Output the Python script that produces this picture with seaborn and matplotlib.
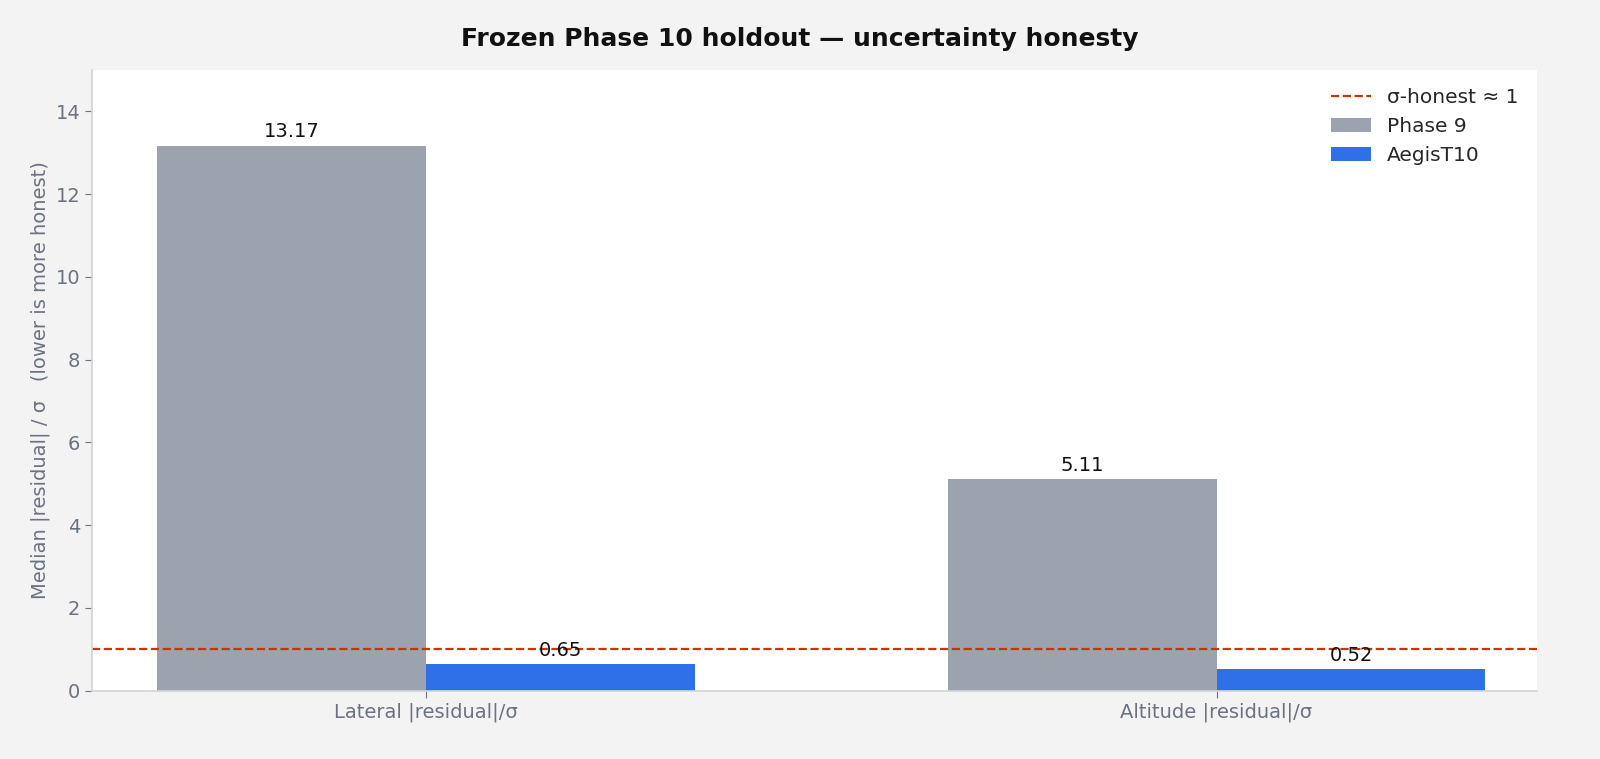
import matplotlib
matplotlib.use("Agg")
import matplotlib.pyplot as plt
import seaborn as sns
import pandas as pd

categories = ["Lateral |residual|/σ", "Altitude |residual|/σ"]
series = ["Phase 9", "AegisT10"]
phase9 = [13.17, 5.11]
aegis = [0.65, 0.52]
honest_level = 1.0

df = pd.DataFrame({
    "cat": categories * 2,
    "model": [series[0]] * 2 + [series[1]] * 2,
    "val": phase9 + aegis,
})

sns.set_theme(style="white")
plt.rcParams['font.family'] = ['DejaVu Sans']
fig = plt.figure(figsize=(16, 7.59), dpi=100, facecolor="#f3f3f3")
ax = fig.add_axes([0.0575, 0.09, 0.903, 0.818])
ax.set_facecolor("white")
sns.barplot(data=df, x="cat", y="val", hue="model", order=categories, hue_order=series,
            palette=["#9ca3af", "#2f6fe8"], width=0.68, saturation=1, linewidth=0, ax=ax)
for c in ax.containers:
    ax.bar_label(c, fmt="%.2f", padding=3, fontsize=14, color="#111111")
ax.axhline(honest_level, color="#cc3300", linestyle="--", linewidth=1.6, label="σ-honest ≈ 1")
ax.set_xlim(-0.422, 1.405)
ax.set_ylim(0, 15)
ax.set_yticks(range(0, 15, 2))
ax.set_xlabel("")
ax.set_ylabel("Median |residual| / σ   (lower is more honest)", fontsize=14, color="#6b7280")
ax.tick_params(axis="both", labelsize=14, colors="#6b7280", length=5, width=0.8, bottom=True, left=True)
for s in ["top", "right"]:
    ax.spines[s].set_visible(False)
for s in ["left", "bottom"]:
    ax.spines[s].set_color("#d1d5db")
h, l = ax.get_legend_handles_labels()
order = [l.index("σ-honest ≈ 1"), l.index("Phase 9"), l.index("AegisT10")]
ax.legend([h[i] for i in order], [l[i] for i in order], loc="upper right", frameon=False, fontsize=14.5)
fig.suptitle("Frozen Phase 10 holdout — uncertainty honesty", fontsize=18, fontweight="bold", y=0.965, color="#111111")
fig.savefig("out.png", dpi=100, facecolor=fig.get_facecolor())
